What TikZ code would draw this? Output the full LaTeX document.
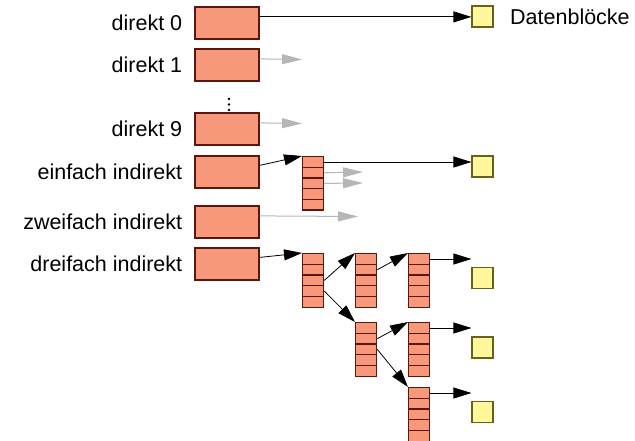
\documentclass[tikz,border=0pt]{standalone}
\usepackage{fontspec}
\setmainfont{Liberation Sans}
\usetikzlibrary{arrows.meta,positioning}
\definecolor{salmon}{RGB}{247,152,122}
\definecolor{salmonborder}{RGB}{90,22,16}
\definecolor{datafill}{RGB}{255,247,153}
\definecolor{databorder}{RGB}{105,96,30}
\definecolor{grayarrow}{RGB}{182,182,182}
\tikzset{
  ptrbox/.style={draw=salmonborder,fill=salmon,line width=1.2pt,minimum width=64pt,minimum height=32pt,inner sep=0pt},
  cellbox/.style={draw=salmonborder,fill=salmon,line width=1.3pt,minimum width=21pt,minimum height=10.7pt,inner sep=0pt,anchor=north west},
  databox/.style={draw=databorder,fill=datafill,line width=1.1pt,minimum width=21pt,minimum height=21pt,inner sep=0pt},
  lbl/.style={font=\fontsize{21.5}{26}\selectfont,inner sep=0pt,anchor=east},
  blackarrow/.style={draw=black,line width=0.8pt,-{Triangle[length=18pt,width=11pt]}},
  grayconn/.style={draw=grayarrow,line width=1pt,-{Triangle[length=20pt,width=10pt]}},
}
\newcommand{\idxblock}[3]{%
  \node[cellbox] (#1-1) at (#2,#3) {};
  \node[cellbox] (#1-2) at (#2,#3+10.7) {};
  \node[cellbox] (#1-3) at (#2,#3+21.4) {};
  \node[cellbox] (#1-4) at (#2,#3+32.1) {};
  \node[cellbox] (#1-5) at (#2,#3+42.8) {};
  \coordinate (#1-nw) at (#2,#3);
}
\begin{document}
\begin{tikzpicture}[x=1pt,y=-1pt]
\useasboundingbox (0,0) rectangle (635,441);
% pointer boxes
\node[ptrbox] (b0) at (227,23) {};
\node[ptrbox] (b1) at (227,65) {};
\node[ptrbox] (b9) at (227,129) {};
\node[ptrbox] (be) at (227,172) {};
\node[ptrbox] (bz) at (227,222) {};
\node[ptrbox] (bd) at (227,264) {};
% labels
\node[lbl,left=12pt of b0] (l0) {direkt 0};
\node[lbl,left=12pt of b1] (l1) {direkt 1};
\node[lbl,left=12pt of b9] (l9) {direkt 9};
\node[lbl,left=12pt of be] (le) {einfach indirekt};
\node[lbl,left=12pt of bz] (lz) {zweifach indirekt};
\node[lbl,left=12pt of bd] (ld) {dreifach indirekt};
% dots
\foreach \yy in {99,104.5,110} \fill (229,\yy) circle (1.3pt);
% data blocks
\node[databox] (d0) at (482.5,16.5) {};
\node[lbl,anchor=west] (dl) at (510,17) {Datenblöcke};
\node[databox] (de) at (482.5,166.5) {};
\node[databox] (d3a) at (482.5,278) {};
\node[databox] (d3b) at (482.5,347.5) {};
\node[databox] (d3c) at (482.5,412) {};
% index blocks
\idxblock{E}{302}{156}
\idxblock{D}{302}{253}
\idxblock{Ma}{355}{253}
\idxblock{Mb}{355}{322}
\idxblock{Na}{408}{253}
\idxblock{Nb}{408}{322}
\idxblock{Nc}{408}{387}
% free ends of grey arrows
\coordinate (g1) at (302,59.5);
\coordinate (g9) at (302,123.5);
\coordinate (ge2) at (363,172);
\coordinate (ge3) at (363,183);
\coordinate (gz) at (358,216.5);
% connectors
\draw[blackarrow] ([yshift=-10.5pt]b0.north east) -- ([yshift=-10.5pt]b0.north east -| d0.west);
\draw[grayconn] ([yshift=-10.5pt]b1.north east) -- (g1);
\draw[grayconn] ([yshift=-10.5pt]b9.north east) -- (g9);
\draw[blackarrow] ([yshift=-10pt]be.north east) -- (E-nw);
\draw[blackarrow] (E-1.east) -- (E-1.east -| de.west);
\draw[grayconn] (E-2.east) -- (ge2);
\draw[grayconn] (E-3.east) -- (ge3);
\draw[grayconn] ([yshift=-10.5pt]bz.north east) -- (gz);
\draw[blackarrow] ([yshift=-10pt]bd.north east) -- (D-nw);
\draw[blackarrow] (D-3.east) -- (Ma-nw);
\draw[blackarrow] (D-4.east) -- (Mb-nw);
\draw[blackarrow] (Ma-2.east) -- (Na-nw);
\draw[blackarrow] (Mb-2.east) -- (Nb-nw);
\draw[blackarrow] (Mb-3.east) -- (Nc-nw);
\draw[blackarrow] (Na-1.east) -- (Na-1.east -| d3a.west);
\draw[blackarrow] (Nb-1.east) -- (Nb-1.east -| d3b.west);
\draw[blackarrow] (Nc-1.east) -- (Nc-1.east -| d3c.west);
\end{tikzpicture}
\end{document}
